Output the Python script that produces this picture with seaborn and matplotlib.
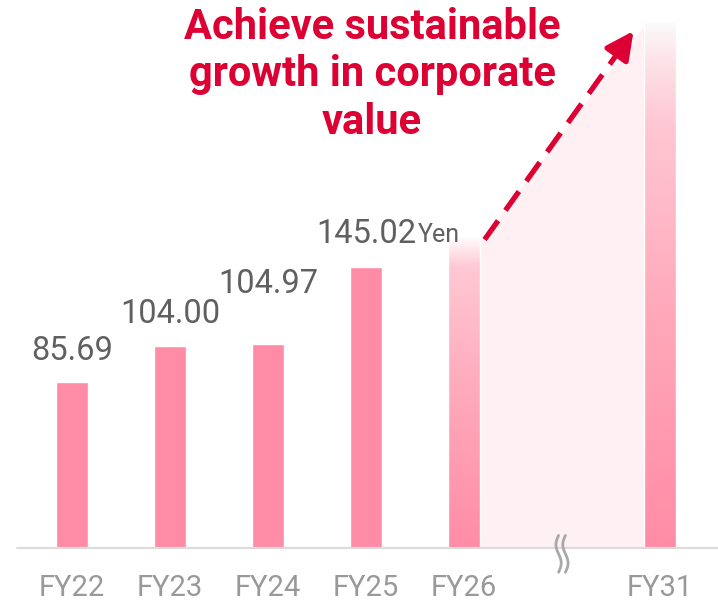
import numpy as np
import pandas as pd
import seaborn as sns
import matplotlib
matplotlib.use("Agg")
import matplotlib.pyplot as plt
from matplotlib.colors import LinearSegmentedColormap
from matplotlib.patches import Polygon

# ---- data -------------------------------------------------------------
fiscal_years = ["FY22", "FY23", "FY24", "FY25", "FY26", "FY31"]
dividend_yen = [85.69, 104.00, 104.97, 145.02, 161.0, 271.0]
value_labels = ["85.69", "104.00", "104.97", "145.02", "", ""]
axis_order = ["FY22", "FY23", "FY24", "FY25", "FY26", " ", "FY31"]
forecast_years = ["FY26", "FY31"]
unit_label = "Yen"
headline = "Achieve sustainable\ngrowth in corporate\nvalue"

# ---- style ------------------------------------------------------------
BAR = "#ff8ca6"
PALE = "#fff0f4"
RED = "#dc0033"
VALUE_GREY = "#606060"
TICK_GREY = "#999999"
AXIS_GREY = "#dcdcdc"
BAR_WIDTH = 0.32
label_gap_pt = [16, 17, 37, 17, 0, 0]  # vertical gap between bar top and its label

sns.set_theme(style="white")
plt.rcParams["font.family"] = ["Roboto", "DejaVu Sans"]

df = pd.DataFrame({"year": fiscal_years, "value": dividend_yen})

W, H = 718, 604
BASE_PX = 56  # baseline height above the bottom edge, in pixels
fig = plt.figure(figsize=(W / 100, H / 100), dpi=100)
ax = fig.add_axes([0, BASE_PX / H, 1, 1 - BASE_PX / H])

sns.barplot(data=df, x="year", y="value", order=axis_order, color=BAR,
            saturation=1, width=BAR_WIDTH, ax=ax, errorbar=None, zorder=3)

XLIM = (-0.735, 6.592)
YLIM = (0, 282.5)
for s in ax.spines.values():
    s.set_visible(False)
ax.set_yticks([])
ax.set_xlabel("")
ax.set_ylabel("")
ax.tick_params(axis="x", length=0, pad=18.5, labelsize=21, labelcolor=TICK_GREY)

pos = {name: i for i, name in enumerate(axis_order)}
i26, i31 = pos["FY26"], pos["FY31"]
v26 = dividend_yen[fiscal_years.index("FY26")]
v31 = dividend_yen[fiscal_years.index("FY31")]
half = BAR_WIDTH / 2

# pale growth band between the two forecast bars
band = Polygon([(i26 + half, 0), (i26 + half, v26 - 4),
                (i31 - half, v31 - 2), (i31 - half, 0)],
               closed=True, facecolor=PALE, edgecolor="none", zorder=1)
ax.add_patch(band)

# gradient fill for forecast bars
grad26 = LinearSegmentedColormap.from_list(
    "g26", [(0.0, "#ff8ca6"), (0.55, "#ffadbf"), (0.9, "#ffc8d4"), (1.0, "#ffffff")])
grad31 = LinearSegmentedColormap.from_list(
    "g31", [(0.0, "#ff8ca6"), (0.45, "#ffa9bb"), (0.8, "#ffc6d2"),
            (0.93, "#fde3e9"), (1.0, "#fafafa")])
for patch in list(ax.patches):
    if patch is band:
        continue
    cx = patch.get_x() + patch.get_width() / 2
    idx = int(round(cx))
    if idx in (i26, i31):
        h = patch.get_height()
        cmap = grad26 if idx == i26 else grad31
        patch.set_facecolor("none")
        grad = np.linspace(0, 1, 256).reshape(-1, 1)
        im = ax.imshow(grad, cmap=cmap, origin="lower", aspect="auto",
                       extent=[patch.get_x(), patch.get_x() + patch.get_width(), 0, h],
                       zorder=2)
        im.set_clip_path(patch)

ax.set_xlim(*XLIM)
ax.set_ylim(*YLIM)

# baseline
ax.axhline(0, xmin=17 / W, xmax=1, color=AXIS_GREY, lw=1.6, zorder=4, clip_on=False)

# axis break mark
brk = pos[" "]
yy = np.linspace(-12.5, 6.5, 60)
for dx in (-0.035, 0.035):
    xx = brk + dx + 0.027 * np.sin((yy + 12.5) / 19 * 2 * np.pi)
    ax.plot(xx, yy, color="#a8a8a8", lw=2.0, zorder=5, solid_capstyle="round",
            clip_on=False)

# value labels
for i, (yr, v, lab) in enumerate(zip(fiscal_years, dividend_yen, value_labels)):
    if lab:
        ax.annotate(lab, xy=(pos[yr], v), xytext=(0, label_gap_pt[i]),
                    textcoords="offset points", ha="center", va="baseline",
                    fontsize=23.5, color=VALUE_GREY, zorder=6)
ax.annotate(unit_label, xy=(pos["FY25"], dividend_yen[3]), xytext=(37, 18),
            textcoords="offset points", ha="left", va="baseline",
            fontsize=18, color=VALUE_GREY, zorder=6)

# dashed growth arrow
x0, y0 = i26 + 0.21, v26 - 2
x1, y1 = i31 - 0.27, v31 - 4.5
frac = 0.9
lx, ly = x0 + (x1 - x0) * frac, y0 + (y1 - y0) * frac
line, = ax.plot([x0, lx], [y0, ly], color=RED, lw=3.8, zorder=6,
                solid_capstyle="butt", dash_capstyle="butt")
line.set_dashes((4.4, 2.4))
ax.annotate("", xy=(x1, y1), xytext=(lx - (x1 - x0) * 0.02, ly - (y1 - y0) * 0.02),
            arrowprops=dict(arrowstyle="-|>,head_length=1.4,head_width=0.7",
                            color=RED, lw=3.8, shrinkA=0, shrinkB=0),
            zorder=7, annotation_clip=False)

# headline
fig.text(372 / W, 1 - 7 / H, headline,
         ha="center", va="top", fontsize=30, fontweight="bold", color=RED,
         linespacing=1.2, zorder=8)

fig.savefig("out.png", dpi=100)
